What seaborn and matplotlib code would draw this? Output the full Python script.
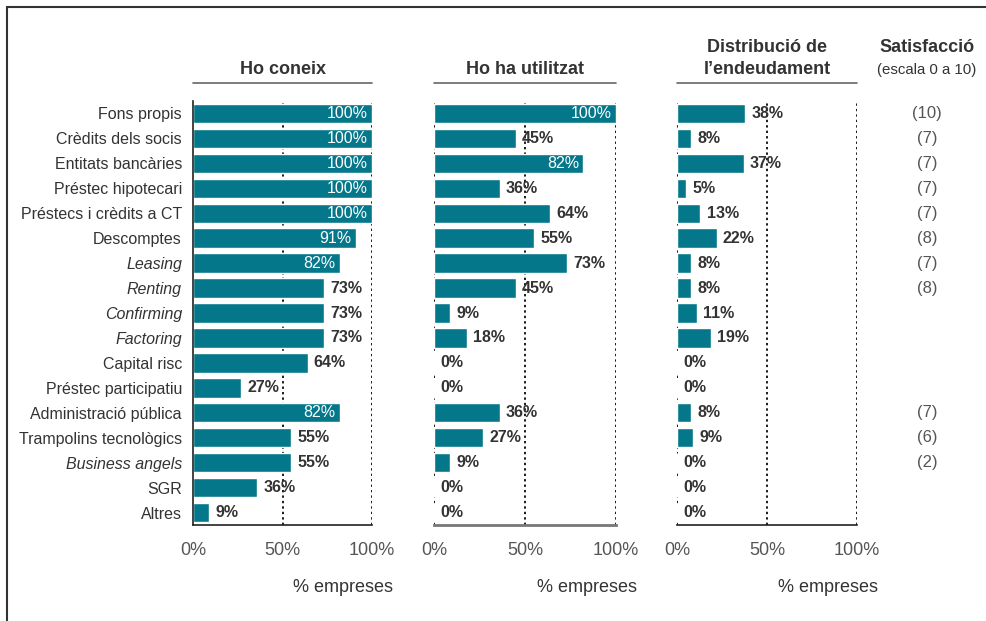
import matplotlib
matplotlib.use("Agg")
import matplotlib.pyplot as plt
from matplotlib.lines import Line2D
import seaborn as sns
import pandas as pd

sns.set_style("white")
plt.rcParams["font.family"] = ["Liberation Sans", "DejaVu Sans"]

# ---- data ----
categories = [
    "Fons propis", "Crèdits dels socis", "Entitats bancàries", "Préstec hipotecari",
    "Préstecs i crèdits a CT", "Descomptes", "Leasing", "Renting", "Confirming",
    "Factoring", "Capital risc", "Préstec participatiu", "Administració pública",
    "Trampolins tecnològics", "Business angels", "SGR", "Altres",
]
italic_categories = ["Leasing", "Renting", "Confirming", "Factoring", "Business angels"]
ho_coneix = [100, 100, 100, 100, 100, 91, 82, 73, 73, 73, 64, 27, 82, 55, 55, 36, 9]
ho_ha_utilitzat = [100, 45, 82, 36, 64, 55, 73, 45, 9, 18, 0, 0, 36, 27, 9, 0, 0]
endeudament = [38, 8, 37, 5, 13, 22, 8, 8, 11, 19, 0, 0, 8, 9, 0, 0, 0]
satisfaccio = ["(10)", "(7)", "(7)", "(7)", "(7)", "(8)", "(7)", "(8)", "", "", "", "",
               "(7)", "(6)", "(2)", "", ""]
x_ticks = [0, 50, 100]
x_tick_labels = ["0%", "50%", "100%"]

df = pd.DataFrame({
    "categoria": categories,
    "coneix": ho_coneix,
    "utilitzat": ho_ha_utilitzat,
    "endeudament": endeudament,
})

BAR = "#04788a"
DARK = "#333333"
GREY = "#555555"
W, H = 987, 621

fig = plt.figure(figsize=(W / 100, H / 100), dpi=100)


def fx(px):
    return px / W


def fy(py):
    return 1 - py / H


top_px, bottom_px = 101, 525
panels = [
    ("coneix", 193, 372, "Ho coneix", 343),
    ("utilitzat", 434, 616, "Ho ha utilitzat", 587),
    ("endeudament", 677, 857, "Distribució de\nl\u2019endeudament", 828),
]

for i, (col, x0, x1, title, xlabel_x) in enumerate(panels):
    ax = fig.add_axes([fx(x0), fy(bottom_px), fx(x1) - fx(x0), (bottom_px - top_px) / H])
    sns.barplot(data=df, x=col, y="categoria", color=BAR, saturation=1,
                width=0.78, ax=ax, orient="h")
    ax.set_xlim(0, 100)
    ax.set_ylim(len(categories) - 0.5, -0.5)
    ax.set_xlabel("")
    ax.set_ylabel("")

    # dotted reference lines
    grid_at = [50, 100] if i == 0 else [0, 50, 100]
    for g in grid_at:
        ax.axvline(g, color="#1a1a1a", lw=1.4, ls=(0, (1.2, 1.6)), zorder=0.5)

    for s in ["top", "right"]:
        ax.spines[s].set_visible(False)
    ax.spines["bottom"].set_color("#222222" if i != 1 else "#777777")
    ax.spines["bottom"].set_linewidth(1.2 if i != 1 else 2.0)

    ax.set_xticks(x_ticks)
    ax.set_xticklabels(x_tick_labels)
    ax.tick_params(axis="x", direction="out", length=5, width=1, color="#222222",
                   labelsize=13, labelcolor=GREY, pad=7)

    if i == 0:
        ax.spines["left"].set_color("#222222")
        ax.spines["left"].set_linewidth(1.2)
        ax.set_yticks(range(len(categories)))
        ax.set_yticklabels(categories)
        ax.set_yticks([k - 0.5 for k in range(len(categories) + 1)], minor=True)
        ax.tick_params(axis="y", which="major", length=0, pad=8, labelsize=11.5,
                       labelcolor=DARK)
        ax.tick_params(axis="y", which="minor", length=4, width=1, color="#222222",
                       direction="out")
        for lab in ax.get_yticklabels():
            if lab.get_text() in italic_categories:
                lab.set_fontstyle("italic")
    else:
        ax.spines["left"].set_visible(False)
        ax.set_yticks([])

    # value labels
    for k, v in enumerate(df[col]):
        if v >= 80:
            ax.annotate(f"{v}%", (v, k), xytext=(-3, 0), textcoords="offset points",
                        ha="right", va="center", color="white", fontsize=11.5)
        else:
            ax.annotate(f"{v}%", (v, k), xytext=(4.5, 0), textcoords="offset points",
                        ha="left", va="center", color=DARK, fontsize=11.5,
                        fontweight="bold")

    # panel header with underline
    cx = (x0 + x1) / 2
    if "\n" in title:
        l1, l2 = title.split("\n")
        fig.text(fx(cx), fy(47), l1, ha="center", va="center",
                 fontsize=13, fontweight="bold", color=DARK)
        fig.text(fx(cx), fy(70), l2, ha="center", va="center",
                 fontsize=13, fontweight="bold", color=DARK)
    else:
        fig.text(fx(cx), fy(70), title, ha="center", va="center",
                 fontsize=13, fontweight="bold", color=DARK)
    fig.add_artist(Line2D([fx(x0), fx(x1)], [fy(83), fy(83)], color="#666666", lw=1.2))

    fig.text(fx(xlabel_x), fy(587), "% empreses", ha="center", va="center",
             fontsize=13, color=DARK)

# satisfaction column
fig.text(fx(927), fy(47), "Satisfacció", ha="center", va="center",
         fontsize=13, fontweight="bold", color=DARK)
fig.text(fx(927), fy(70), "(escala 0 a 10)", ha="center", va="center",
         fontsize=10.8, color=DARK)
row_px = (bottom_px - top_px) / len(categories)
for k, s in enumerate(satisfaccio):
    if s:
        fig.text(fx(927), fy(top_px + row_px * (k + 0.5)), s, ha="center", va="center",
                 fontsize=12, color=GREY)

# frame at top and left
fig.add_artist(Line2D([fx(7), 1], [fy(7), fy(7)], color="#333333", lw=1.5))
fig.add_artist(Line2D([fx(7), fx(7)], [fy(7), 0], color="#333333", lw=1.5))

fig.savefig("out.png", dpi=100)
